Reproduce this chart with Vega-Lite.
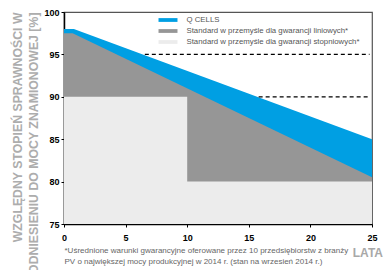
{
  "$schema": "https://vega.github.io/schema/vega-lite/v6.json",
  "width": 308,
  "height": 212,
  "autosize": {"type": "none"},
  "padding": {"left": 64, "top": 12, "right": 12, "bottom": 46},
  "background": "white",
  "config": {
    "font": "Liberation Sans",
    "view": {"stroke": "#555", "strokeWidth": 1.2},
    "axis": {"grid": false, "labelOverlap": false}
  },
  "title": {
    "text": "LATA",
    "orient": "bottom",
    "anchor": "end",
    "frame": "group",
    "fontSize": 12,
    "fontWeight": "bold",
    "color": "#a8a8a8",
    "offset": 0,
    "dx": 11,
    "dy": -26
  },
  "datasets": {
    "curves": [
      {"series": "Q CELLS", "year": 0, "value": 98},
      {"series": "Q CELLS", "year": 0.8, "value": 98},
      {"series": "Q CELLS", "year": 25, "value": 85},
      {"series": "Standard w przemyśle dla gwarancji liniowych*", "year": 0, "value": 97.5},
      {"series": "Standard w przemyśle dla gwarancji liniowych*", "year": 0.7, "value": 97.5},
      {"series": "Standard w przemyśle dla gwarancji liniowych*", "year": 25, "value": 80.5},
      {"series": "Standard w przemyśle dla gwarancji stopniowych*", "year": 0, "value": 90},
      {"series": "Standard w przemyśle dla gwarancji stopniowych*", "year": 10, "value": 80},
      {"series": "Standard w przemyśle dla gwarancji stopniowych*", "year": 25, "value": 80}
    ],
    "dashes": [
      {"start": 6.56, "end": 24.8, "level": 95},
      {"start": 15.8, "end": 24.8, "level": 90}
    ]
  },
  "layer": [
    {
      "data": {"name": "curves"},
      "transform": [{"filter": "datum.series != 'Standard w przemyśle dla gwarancji stopniowych*'"}],
      "mark": {"type": "area", "interpolate": "linear"},
      "encoding": {
        "x": {
          "field": "year", "type": "quantitative",
          "scale": {"domain": [0, 25], "nice": false},
          "axis": {
            "values": [0, 5, 10, 15, 20, 25],
            "domainColor": "black", "domainWidth": 1.5,
            "tickColor": "black", "tickSize": 3, "tickWidth": 1,
            "labelFont": "Liberation Sans", "labelFontSize": 9, "labelFontWeight": "bold", "labelColor": "black",
            "labelPadding": 6, "labelFlush": false, "labelOverlap": false,
            "title": ["*Uśrednione warunki gwarancyjne oferowane przez 10 przedsiębiorstw z branży", "PV o największej mocy produkcyjnej w 2014 r. (stan na wrzesień 2014 r.)"],
            "titleFont": "Liberation Sans", "titleFontSize": 8, "titleFontWeight": "normal", "titleColor": "#666",
            "titleAlign": "left", "titleAnchor": "start", "titleBaseline": "alphabetic",
            "titleX": 0, "titleY": 28, "titleLineHeight": 11.5
          }
        },
        "y": {
          "field": "value", "type": "quantitative",
          "scale": {"domain": [75, 100], "nice": false, "zero": false},
          "axis": {
            "values": [75, 80, 85, 90, 95, 100],
            "domainColor": "black", "domainWidth": 1.5,
            "tickColor": "black",
            "tickSize": 3, "tickWidth": 1,
            "labelFont": "Liberation Sans", "labelFontSize": 9, "labelFontWeight": "bold",
            "labelColor": "black",
            "labelPadding": 2, "labelOverlap": false, "labelFlush": false,
            "title": ["WZGLĘDNY STOPIEŃ SPRAWNOŚCI W", "ODNIESIENIU DO MOCY ZNAMIONOWEJ [%]"],
            "titleFont": "Liberation Sans", "titleFontSize": 12.3, "titleFontWeight": "bold", "titleColor": "#adadad",
            "titleAngle": -90, "titleAlign": "right", "titleBaseline": "alphabetic",
            "titleX": -42.5, "titleY": 0, "titleLineHeight": 16
          }
        },
        "y2": {"datum": 75},
        "color": {
          "field": "series", "type": "nominal",
          "scale": {
            "domain": ["Q CELLS", "Standard w przemyśle dla gwarancji liniowych*", "Standard w przemyśle dla gwarancji stopniowych*"],
            "range": ["#009fe3", "#969696", "#ececec"]
          },
          "legend": {
            "orient": "none", "legendX": 99, "legendY": 3,
            "title": null,
            "symbolType": "M-2,-0.4L2,-0.4L2,0.4L-2,0.4Z",
            "symbolSize": 90, "symbolStrokeWidth": 0,
            "labelFont": "Liberation Sans", "labelFontSize": 7.8, "labelColor": "#555",
            "labelOffset": 13.5, "rowPadding": 2, "labelLimit": 400
          }
        }
      }
    },
    {
      "data": {"name": "curves"},
      "transform": [{"filter": "datum.series == 'Standard w przemyśle dla gwarancji stopniowych*'"}],
      "mark": {"type": "area", "interpolate": "step-after"},
      "encoding": {
        "x": {"field": "year", "type": "quantitative"},
        "y": {"field": "value", "type": "quantitative"},
        "y2": {"datum": 75},
        "color": {"field": "series", "type": "nominal"}
      }
    },
    {
      "data": {"name": "dashes"},
      "mark": {"type": "rule", "color": "black", "strokeWidth": 1.2, "strokeDash": [4, 3]},
      "encoding": {
        "x": {"field": "start", "type": "quantitative"},
        "x2": {"field": "end"},
        "y": {"field": "level", "type": "quantitative"}
      }
    }
  ]
}
